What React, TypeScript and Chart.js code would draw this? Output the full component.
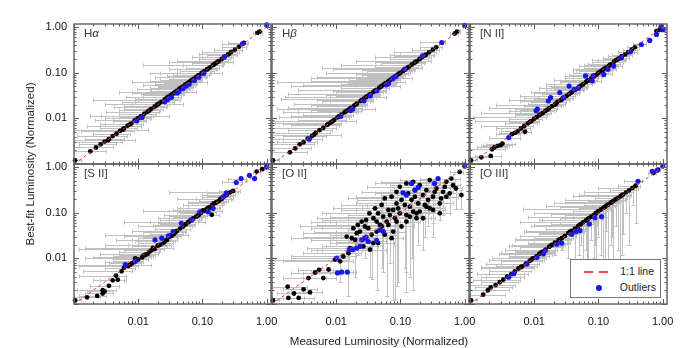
import React, { useEffect, useRef } from "react";
import { Chart, registerables } from "chart.js";
Chart.register(...registerables);

// ---------------- data ----------------
const AXIS_MIN = 0.001;
const AXIS_MAX = 1.17;
const TICK_VALUES = [0.01, 0.1, 1];
const TICK_LABELS = ["0.01", "0.10", "1.00"];
const PANEL_NAMES = ["Hα", "Hβ", "[N II]", "[S II]", "[O II]", "[O III]"];
const X_TITLE = "Measured Luminosity (Normalized)";
const Y_TITLE = "Best-fit Luminosity (Normalized)";
const LEGEND_LABELS = ["1:1 line", "Outliers"];

// rows: [x, y, xlo, xhi, ylo?, yhi?]
const HA_BLACK = [
  [0.00104, 0.0012, 0.001, 0.0013], [0.0018, 0.0019, 0.001, 0.0032], [0.0022, 0.0023, 0.001, 0.004],
  [0.0026, 0.0027, 0.0012, 0.0045], [0.003, 0.0031, 0.001, 0.0055], [0.0035, 0.0035, 0.0015, 0.006],
  [0.004, 0.0041, 0.0011, 0.0068], [0.0046, 0.0046, 0.002, 0.0075], [0.0052, 0.0053, 0.0013, 0.0085],
  [0.006, 0.006, 0.0025, 0.0095], [0.0068, 0.0069, 0.0016, 0.011], [0.0078, 0.0077, 0.003, 0.012],
  [0.0088, 0.009, 0.0021, 0.013], [0.0098, 0.01, 0.004, 0.015], [0.011, 0.011, 0.0026, 0.017],
  [0.0125, 0.0127, 0.005, 0.019], [0.014, 0.014, 0.0032, 0.021], [0.016, 0.0162, 0.006, 0.024],
  [0.018, 0.018, 0.0042, 0.027], [0.02, 0.0205, 0.008, 0.03], [0.023, 0.023, 0.0055, 0.034],
  [0.026, 0.026, 0.01, 0.037], [0.029, 0.0295, 0.0065, 0.042], [0.032, 0.032, 0.012, 0.046],
  [0.036, 0.036, 0.008, 0.052], [0.04, 0.04, 0.015, 0.057], [0.044, 0.045, 0.0095, 0.062],
  [0.049, 0.049, 0.02, 0.07], [0.054, 0.055, 0.012, 0.078], [0.06, 0.06, 0.025, 0.083],
  [0.066, 0.067, 0.015, 0.092], [0.073, 0.073, 0.03, 0.1], [0.08, 0.081, 0.018, 0.115],
  [0.088, 0.088, 0.035, 0.125], [0.097, 0.098, 0.022, 0.135], [0.107, 0.107, 0.045, 0.15],
  [0.118, 0.12, 0.03, 0.165], [0.13, 0.13, 0.055, 0.18], [0.145, 0.146, 0.012, 0.2],
  [0.16, 0.16, 0.07, 0.22], [0.18, 0.18, 0.04, 0.25], [0.2, 0.2, 0.09, 0.27],
  [0.22, 0.225, 0.07, 0.3], [0.25, 0.25, 0.12, 0.33], [0.28, 0.285, 0.1, 0.37],
  [0.32, 0.32, 0.15, 0.42], [0.37, 0.37, 0.2, 0.47], [0.44, 0.45, 0.25, 0.52],
  [0.72, 0.75, 0.62, 0.8], [0.78, 0.8, 0.66, 0.85],
  [0.0034, 0.0033, 0.001, 0.009], [0.0058, 0.0057, 0.001, 0.014], [0.0115, 0.0112, 0.0018, 0.03],
  [0.021, 0.021, 0.003, 0.05], [0.038, 0.038, 0.005, 0.08], [0.062, 0.062, 0.008, 0.12],
  [0.1, 0.1, 0.015, 0.2], [0.17, 0.17, 0.03, 0.3], [0.026, 0.025, 0.002, 0.045],
  [0.0075, 0.0074, 0.0025, 0.011], [0.0105, 0.0104, 0.003, 0.016], [0.015, 0.015, 0.005, 0.022],
  [0.019, 0.019, 0.006, 0.028], [0.027, 0.027, 0.009, 0.04], [0.034, 0.034, 0.011, 0.05],
  [0.047, 0.047, 0.015, 0.068], [0.057, 0.057, 0.018, 0.08], [0.07, 0.07, 0.022, 0.1],
  [0.085, 0.085, 0.028, 0.12], [0.12, 0.12, 0.04, 0.17], [0.15, 0.15, 0.05, 0.21], [0.26, 0.26, 0.09, 0.35],
];
const HA_BLUE = [
  [0.0095, 0.0088, 0.004, 0.013], [0.0115, 0.0105, 0.005, 0.016], [0.026, 0.023, 0.009, 0.036],
  [0.029, 0.026, 0.01, 0.04], [0.033, 0.029, 0.012, 0.046], [0.04, 0.036, 0.015, 0.052],
  [0.043, 0.039, 0.016, 0.056], [0.05, 0.045, 0.02, 0.065], [0.056, 0.051, 0.02, 0.072],
  [0.062, 0.056, 0.025, 0.08], [0.075, 0.068, 0.03, 0.095], [0.088, 0.08, 0.035, 0.11],
  [0.105, 0.097, 0.04, 0.13], [0.22, 0.22, 0.1, 0.28], [0.42, 0.43, 0.2, 0.5], [1.0, 1.12, 1.0, 1.0],
];

const HB_BLACK = [
  [0.00104, 0.0012, 0.001, 0.0013], [0.0019, 0.0018, 0.001, 0.0035], [0.0023, 0.0022, 0.001, 0.004],
  [0.0027, 0.0027, 0.001, 0.0045], [0.0031, 0.003, 0.0012, 0.005], [0.0036, 0.0036, 0.001, 0.006],
  [0.0042, 0.0041, 0.0015, 0.007], [0.0048, 0.0048, 0.001, 0.008], [0.0055, 0.0055, 0.0018, 0.0085],
  [0.0063, 0.0062, 0.001, 0.01], [0.0072, 0.0072, 0.002, 0.011], [0.0082, 0.0081, 0.0011, 0.012],
  [0.0093, 0.0093, 0.0025, 0.014], [0.0105, 0.0105, 0.0013, 0.016], [0.012, 0.012, 0.003, 0.018],
  [0.0135, 0.0135, 0.0015, 0.02], [0.015, 0.015, 0.004, 0.022], [0.017, 0.017, 0.0018, 0.025],
  [0.019, 0.019, 0.005, 0.028], [0.021, 0.021, 0.0022, 0.03], [0.024, 0.024, 0.006, 0.034],
  [0.027, 0.027, 0.0014, 0.038], [0.03, 0.03, 0.008, 0.042], [0.034, 0.034, 0.0018, 0.048],
  [0.038, 0.038, 0.01, 0.053], [0.042, 0.042, 0.0025, 0.06], [0.047, 0.047, 0.012, 0.066],
  [0.053, 0.053, 0.003, 0.075], [0.059, 0.059, 0.015, 0.082], [0.066, 0.066, 0.004, 0.09],
  [0.074, 0.074, 0.02, 0.1], [0.082, 0.082, 0.005, 0.11], [0.09, 0.091, 0.025, 0.12],
  [0.1, 0.1, 0.007, 0.14], [0.11, 0.11, 0.03, 0.15], [0.122, 0.122, 0.009, 0.17],
  [0.135, 0.135, 0.04, 0.19], [0.15, 0.15, 0.012, 0.21], [0.165, 0.165, 0.05, 0.23],
  [0.18, 0.18, 0.02, 0.3], [0.2, 0.2, 0.07, 0.27], [0.22, 0.22, 0.04, 0.3],
  [0.25, 0.25, 0.1, 0.33], [0.28, 0.28, 0.08, 0.36], [0.32, 0.32, 0.15, 0.4],
  [0.36, 0.36, 0.2, 0.44], [0.7, 0.72, 0.6, 0.78], [0.76, 0.8, 0.65, 0.85],
  [0.0045, 0.0044, 0.001, 0.012], [0.0088, 0.0087, 0.001, 0.02], [0.016, 0.016, 0.0012, 0.04],
  [0.029, 0.029, 0.0016, 0.06], [0.05, 0.05, 0.002, 0.1], [0.078, 0.078, 0.004, 0.15],
  [0.13, 0.13, 0.006, 0.22], [0.064, 0.063, 0.0012, 0.12],
  [0.0075, 0.0075, 0.0015, 0.012], [0.011, 0.011, 0.002, 0.017], [0.014, 0.014, 0.0025, 0.022],
  [0.02, 0.02, 0.004, 0.03], [0.025, 0.025, 0.005, 0.038], [0.032, 0.032, 0.007, 0.047],
  [0.04, 0.04, 0.009, 0.06], [0.056, 0.056, 0.012, 0.08], [0.07, 0.07, 0.016, 0.1],
  [0.095, 0.095, 0.02, 0.13], [0.115, 0.115, 0.025, 0.16], [0.17, 0.17, 0.04, 0.24], [0.24, 0.24, 0.07, 0.32],
];
const HB_BLUE = [
  [0.0038, 0.0035, 0.0015, 0.006], [0.0117, 0.011, 0.004, 0.016], [0.0168, 0.0148, 0.005, 0.024],
  [0.018, 0.016, 0.006, 0.025], [0.027, 0.024, 0.008, 0.038], [0.034, 0.031, 0.01, 0.046],
  [0.043, 0.04, 0.012, 0.058], [0.06, 0.054, 0.02, 0.08], [0.065, 0.058, 0.02, 0.085],
  [0.076, 0.074, 0.025, 0.1], [0.085, 0.083, 0.03, 0.11], [0.116, 0.12, 0.04, 0.15],
  [0.22, 0.235, 0.08, 0.28], [0.44, 0.46, 0.2, 0.5], [1.0, 1.09, 1.0, 1.0],
];

const NII_BLACK = [
  [0.00104, 0.0012, 0.001, 0.0013], [0.0015, 0.0014, 0.001, 0.0022], [0.0021, 0.0015, 0.0012, 0.003],
  [0.0022, 0.0021, 0.001, 0.0035], [0.0024, 0.0023, 0.0013, 0.0038], [0.0027, 0.0025, 0.0015, 0.004],
  [0.003, 0.0026, 0.0016, 0.0045], [0.0032, 0.0028, 0.0018, 0.005], [0.0045, 0.0045, 0.0025, 0.006],
  [0.005, 0.0048, 0.0028, 0.007], [0.0055, 0.0052, 0.003, 0.0075], [0.0072, 0.0051, 0.005, 0.009],
  [0.0062, 0.006, 0.0025, 0.0085], [0.007, 0.0068, 0.0015, 0.0095], [0.008, 0.0078, 0.0035, 0.011],
  [0.009, 0.0087, 0.0012, 0.012], [0.01, 0.0098, 0.004, 0.013], [0.011, 0.0107, 0.0011, 0.015],
  [0.012, 0.0118, 0.005, 0.016], [0.0135, 0.013, 0.0015, 0.018], [0.015, 0.0146, 0.006, 0.02],
  [0.017, 0.0165, 0.002, 0.023], [0.019, 0.0185, 0.007, 0.026], [0.021, 0.02, 0.0025, 0.028],
  [0.023, 0.023, 0.009, 0.031], [0.026, 0.025, 0.004, 0.035], [0.029, 0.028, 0.011, 0.039],
  [0.032, 0.031, 0.006, 0.043], [0.035, 0.034, 0.013, 0.047], [0.039, 0.038, 0.009, 0.052],
  [0.043, 0.042, 0.015, 0.058], [0.048, 0.046, 0.012, 0.065], [0.053, 0.052, 0.02, 0.07],
  [0.058, 0.056, 0.015, 0.08], [0.064, 0.063, 0.025, 0.085], [0.07, 0.068, 0.02, 0.095],
  [0.077, 0.075, 0.03, 0.1], [0.085, 0.083, 0.03, 0.115], [0.093, 0.09, 0.04, 0.125],
  [0.1, 0.1, 0.04, 0.14], [0.11, 0.108, 0.05, 0.15], [0.12, 0.12, 0.04, 0.17],
  [0.13, 0.13, 0.06, 0.18], [0.145, 0.14, 0.05, 0.2], [0.16, 0.155, 0.07, 0.22],
  [0.175, 0.175, 0.08, 0.24], [0.19, 0.19, 0.1, 0.25], [0.21, 0.205, 0.12, 0.27],
  [0.23, 0.23, 0.14, 0.3], [0.26, 0.25, 0.16, 0.33], [0.29, 0.28, 0.2, 0.36],
  [0.33, 0.32, 0.24, 0.4], [0.37, 0.36, 0.28, 0.43], [0.8, 0.82, 0.75, 0.87], [0.9, 0.88, 0.85, 0.95],
  [0.0085, 0.0083, 0.004, 0.012], [0.0125, 0.0122, 0.005, 0.017], [0.016, 0.0155, 0.006, 0.022],
  [0.022, 0.021, 0.008, 0.03], [0.027, 0.026, 0.01, 0.036], [0.037, 0.036, 0.014, 0.05],
  [0.05, 0.049, 0.018, 0.067], [0.067, 0.066, 0.025, 0.09], [0.09, 0.088, 0.035, 0.12],
  [0.115, 0.113, 0.045, 0.16], [0.15, 0.148, 0.06, 0.2], [0.2, 0.195, 0.08, 0.26],
];
const NII_BLUE = [
  [0.004, 0.0038, 0.002, 0.006], [0.0107, 0.0147, 0.004, 0.015], [0.0112, 0.016, 0.005, 0.016],
  [0.0166, 0.024, 0.006, 0.025], [0.018, 0.0285, 0.007, 0.026], [0.0284, 0.0285, 0.012, 0.04],
  [0.025, 0.0367, 0.01, 0.035], [0.035, 0.051, 0.015, 0.05], [0.042, 0.043, 0.02, 0.06],
  [0.0485, 0.046, 0.02, 0.065], [0.063, 0.085, 0.03, 0.09], [0.08, 0.066, 0.04, 0.11],
  [0.083, 0.085, 0.04, 0.11], [0.121, 0.092, 0.06, 0.16], [0.14, 0.119, 0.07, 0.19],
  [0.173, 0.14, 0.09, 0.23], [0.228, 0.212, 0.12, 0.3], [0.315, 0.287, 0.2, 0.4],
  [0.466, 0.416, 0.35, 0.55], [0.63, 0.51, 0.63, 0.63], [0.8, 0.69, 0.8, 0.8],
  [0.95, 1.04, 0.95, 0.95], [1.02, 0.88, 1.02, 1.02],
];

const SII_BLACK = [
  [0.00104, 0.0012, 0.001, 0.0013], [0.0016, 0.0014, 0.001, 0.0025], [0.0023, 0.0015, 0.0012, 0.0032],
  [0.0028, 0.0017, 0.0015, 0.004], [0.0028, 0.002, 0.0011, 0.0045], [0.003, 0.0019, 0.0016, 0.004],
  [0.0035, 0.0025, 0.0018, 0.005], [0.004, 0.0033, 0.002, 0.006], [0.0045, 0.0042, 0.0012, 0.0065],
  [0.0048, 0.0034, 0.0025, 0.0065], [0.0055, 0.0052, 0.0014, 0.008], [0.006, 0.0062, 0.003, 0.009],
  [0.007, 0.0068, 0.0012, 0.01], [0.008, 0.0078, 0.0035, 0.011], [0.009, 0.01, 0.0015, 0.013],
  [0.01, 0.0095, 0.004, 0.014], [0.0115, 0.0105, 0.002, 0.016], [0.013, 0.012, 0.005, 0.018],
  [0.014, 0.0125, 0.0025, 0.02], [0.016, 0.015, 0.006, 0.022], [0.018, 0.016, 0.0012, 0.025],
  [0.02, 0.019, 0.008, 0.028], [0.022, 0.02, 0.003, 0.032], [0.025, 0.022, 0.01, 0.035],
  [0.028, 0.025, 0.0045, 0.04], [0.03, 0.029, 0.012, 0.042], [0.033, 0.031, 0.006, 0.047],
  [0.036, 0.034, 0.015, 0.05], [0.04, 0.04, 0.008, 0.056], [0.045, 0.045, 0.018, 0.063],
  [0.05, 0.05, 0.01, 0.07], [0.055, 0.056, 0.022, 0.078], [0.06, 0.062, 0.015, 0.085],
  [0.065, 0.068, 0.03, 0.09], [0.072, 0.075, 0.02, 0.1], [0.08, 0.082, 0.035, 0.11],
  [0.088, 0.09, 0.025, 0.12], [0.095, 0.1, 0.045, 0.13], [0.1, 0.11, 0.03, 0.14],
  [0.11, 0.115, 0.05, 0.15], [0.12, 0.125, 0.04, 0.17], [0.13, 0.13, 0.06, 0.18],
  [0.14, 0.145, 0.05, 0.2], [0.15, 0.16, 0.07, 0.21], [0.165, 0.17, 0.06, 0.23],
  [0.18, 0.18, 0.09, 0.25], [0.2, 0.2, 0.08, 0.28], [0.22, 0.23, 0.12, 0.3],
  [0.24, 0.25, 0.1, 0.32], [0.27, 0.28, 0.03, 0.36], [0.3, 0.3, 0.18, 0.38],
  [0.14, 0.09, 0.09, 0.18], [0.7, 0.8, 0.62, 0.78], [0.85, 0.9, 0.8, 0.9],
  [0.0075, 0.0073, 0.001, 0.016], [0.017, 0.017, 0.0015, 0.035], [0.032, 0.032, 0.003, 0.06],
  [0.062, 0.064, 0.006, 0.11], [0.105, 0.11, 0.012, 0.2], [0.19, 0.2, 0.04, 0.3],
  [0.0085, 0.0082, 0.003, 0.012], [0.012, 0.0115, 0.004, 0.017], [0.015, 0.014, 0.005, 0.021],
  [0.021, 0.0195, 0.007, 0.03], [0.026, 0.024, 0.009, 0.037], [0.038, 0.037, 0.012, 0.053],
  [0.052, 0.053, 0.017, 0.073], [0.068, 0.071, 0.022, 0.095], [0.085, 0.087, 0.03, 0.12],
  [0.105, 0.112, 0.035, 0.15], [0.125, 0.13, 0.045, 0.18], [0.16, 0.165, 0.06, 0.22],
];
const SII_BLUE = [
  [0.0063, 0.0073, 0.003, 0.009], [0.009, 0.0086, 0.004, 0.012], [0.0183, 0.0254, 0.008, 0.026],
  [0.0232, 0.0277, 0.01, 0.032], [0.0294, 0.031, 0.012, 0.04], [0.035, 0.0386, 0.015, 0.048],
  [0.047, 0.0587, 0.02, 0.065], [0.068, 0.069, 0.03, 0.09], [0.091, 0.105, 0.04, 0.12],
  [0.123, 0.105, 0.05, 0.16], [0.147, 0.125, 0.06, 0.19], [0.21, 0.223, 0.1, 0.27],
  [0.236, 0.273, 0.12, 0.3], [0.337, 0.46, 0.2, 0.42], [0.4, 0.56, 0.25, 0.48],
  [0.54, 0.66, 0.54, 0.54], [0.65, 0.56, 0.65, 0.65], [1.0, 1.0, 1, 1], [1.0, 1.08, 1, 1],
];

const OII_BLACK = [
  [0.00104, 0.0012, 0.001, 0.0013], [0.00175, 0.0024, 0.001, 0.0035], [0.0018, 0.00136, 0.001, 0.0032],
  [0.0022, 0.0017, 0.0012, 0.004], [0.0026, 0.00136, 0.0015, 0.0045], [0.0031, 0.0021, 0.0015, 0.005],
  [0.0039, 0.0018, 0.002, 0.006], [0.0037, 0.0037, 0.0015, 0.007], [0.0047, 0.0049, 0.002, 0.008],
  [0.0054, 0.0056, 0.0025, 0.009], [0.0063, 0.0037, 0.003, 0.01], [0.0076, 0.0057, 0.0025, 0.012],
  [0.0096, 0.0094, 0.0011, 0.015], [0.0115, 0.0086, 0.0015, 0.018, 0.003, 0.012],
  [0.0129, 0.011, 0.002, 0.02], [0.0155, 0.013, 0.003, 0.024, 0.0015, 0.016],
  [0.0164, 0.0168, 0.0035, 0.026], [0.0175, 0.0277, 0.002, 0.03], [0.0197, 0.0255, 0.004, 0.032, 0.004, 0.03],
  [0.0209, 0.0356, 0.003, 0.035], [0.0235, 0.0387, 0.0045, 0.04], [0.025, 0.064, 0.004, 0.045],
  [0.028, 0.05, 0.0027, 0.048, 0.01, 0.06], [0.0316, 0.046, 0.006, 0.055], [0.038, 0.0757, 0.005, 0.065],
  [0.0426, 0.064, 0.008, 0.07, 0.002, 0.075], [0.045, 0.097, 0.006, 0.08], [0.048, 0.054, 0.01, 0.085],
  [0.054, 0.082, 0.008, 0.09, 0.005, 0.095], [0.057, 0.033, 0.012, 0.09], [0.061, 0.064, 0.01, 0.1, 0.0015, 0.075],
  [0.065, 0.115, 0.012, 0.11], [0.0686, 0.089, 0.015, 0.12, 0.008, 0.1], [0.077, 0.115, 0.02, 0.13],
  [0.082, 0.0757, 0.015, 0.14, 0.0013, 0.09], [0.087, 0.16, 0.02, 0.15], [0.092, 0.125, 0.025, 0.16, 0.003, 0.145],
  [0.098, 0.097, 0.03, 0.17], [0.104, 0.19, 0.021, 0.2], [0.117, 0.148, 0.03, 0.22, 0.006, 0.17],
  [0.124, 0.089, 0.04, 0.22, 0.0018, 0.1], [0.14, 0.136, 0.04, 0.25], [0.149, 0.19, 0.05, 0.28, 0.01, 0.22],
  [0.158, 0.106, 0.05, 0.28, 0.002, 0.12], [0.168, 0.224, 0.06, 0.32], [0.189, 0.16, 0.06, 0.35, 0.02, 0.19],
  [0.2, 0.106, 0.07, 0.35], [0.225, 0.244, 0.08, 0.4], [0.24, 0.148, 0.09, 0.42, 0.03, 0.17],
  [0.254, 0.313, 0.1, 0.45], [0.27, 0.19, 0.1, 0.45, 0.05, 0.22], [0.286, 0.125, 0.12, 0.5],
  [0.322, 0.224, 0.12, 0.55, 0.06, 0.26], [0.363, 0.34, 0.15, 0.6], [0.41, 0.16, 0.15, 0.65, 0.07, 0.19],
  [0.49, 0.37, 0.2, 0.75], [0.52, 0.224, 0.25, 0.8], [0.585, 0.265, 0.3, 0.85, 0.1, 0.3],
  [0.62, 0.56, 0.4, 0.85], [0.836, 0.785, 0.6, 0.95], [0.89, 0.244, 0.89, 0.89, 0.12, 0.32],
  [1.0, 1.04, 1, 1], [0.038, 0.0216, 0.008, 0.07], [0.0336, 0.0155, 0.006, 0.06, 0.004, 0.018],
  [0.045, 0.0216, 0.01, 0.08], [0.077, 0.0387, 0.02, 0.12, 0.0012, 0.045], [0.124, 0.064, 0.03, 0.2, 0.005, 0.075],
  [0.178, 0.0757, 0.05, 0.3], [0.322, 0.115, 0.1, 0.5, 0.03, 0.13], [0.41, 0.097, 0.15, 0.6],
  [0.132, 0.265, 0.05, 0.25], [0.0146, 0.03, 0.003, 0.025], [0.0185, 0.046, 0.004, 0.03],
  [0.0217, 0.054, 0.005, 0.035, 0.012, 0.06], [0.0292, 0.0695, 0.006, 0.045], [0.0329, 0.097, 0.007, 0.05],
  [0.0402, 0.125, 0.009, 0.06], [0.051, 0.148, 0.012, 0.08, 0.02, 0.17], [0.057, 0.206, 0.015, 0.09],
  [0.0728, 0.224, 0.02, 0.11], [0.087, 0.288, 0.025, 0.14, 0.04, 0.32], [0.098, 0.37, 0.03, 0.16],
  [0.124, 0.44, 0.04, 0.2], [0.158, 0.475, 0.05, 0.25], [0.2, 0.4, 0.07, 0.32, 0.08, 0.45],
  [0.286, 0.52, 0.1, 0.42], [0.342, 0.288, 0.12, 0.5], [0.46, 0.288, 0.18, 0.65, 0.09, 0.32],
  [0.52, 0.475, 0.2, 0.7], [0.66, 0.4, 0.3, 0.85], [0.73, 0.34, 0.35, 0.9, 0.12, 0.38],
  [0.43, 0.206, 0.15, 0.6], [0.0426, 0.0387, 0.01, 0.07], [0.051, 0.05, 0.012, 0.08, 0.006, 0.055],
  [0.065, 0.054, 0.015, 0.1], [0.087, 0.064, 0.02, 0.13, 0.0025, 0.07], [0.104, 0.05, 0.03, 0.16],
  [0.14, 0.082, 0.04, 0.22, 0.004, 0.09], [0.178, 0.097, 0.05, 0.28], [0.225, 0.0757, 0.07, 0.35, 0.015, 0.085],
  [0.254, 0.136, 0.08, 0.4], [0.0728, 0.0277, 0.015, 0.11], [0.0265, 0.0183, 0.006, 0.045],
  [0.0356, 0.033, 0.008, 0.06, 0.0035, 0.037],
];
const OII_BLUE = [
  [0.0102, 0.0102, 0.002, 0.016], [0.0105, 0.0048, 0.003, 0.016], [0.0122, 0.005, 0.004, 0.018],
  [0.0149, 0.005, 0.005, 0.02], [0.016, 0.0155, 0.004, 0.025], [0.018, 0.0155, 0.005, 0.028],
  [0.0209, 0.0168, 0.006, 0.03], [0.0235, 0.0183, 0.007, 0.035], [0.025, 0.0255, 0.008, 0.038],
  [0.028, 0.0277, 0.009, 0.04], [0.0292, 0.0292, 0.01, 0.042], [0.0316, 0.0234, 0.01, 0.045],
  [0.0426, 0.0245, 0.015, 0.06], [0.048, 0.042, 0.015, 0.07], [0.054, 0.0387, 0.02, 0.08],
  [0.11, 0.274, 0.04, 0.2], [0.124, 0.244, 0.05, 0.22], [0.149, 0.44, 0.06, 0.25],
  [0.168, 0.313, 0.07, 0.28], [0.189, 0.358, 0.08, 0.3], [0.34, 0.44, 0.15, 0.5],
  [0.385, 0.56, 0.2, 0.55], [1.0, 1.1, 1, 1],
];

const OIII_BLACK = [
  [0.00104, 0.0012, 0.001, 0.0013], [0.0016, 0.0016, 0.001, 0.0035], [0.0019, 0.002, 0.001, 0.004],
  [0.0021, 0.0023, 0.0012, 0.0045], [0.0025, 0.0026, 0.001, 0.005], [0.0029, 0.003, 0.0015, 0.0055],
  [0.0033, 0.0034, 0.0011, 0.006], [0.0038, 0.004, 0.0018, 0.007], [0.0044, 0.0045, 0.0013, 0.008],
  [0.005, 0.0052, 0.002, 0.009], [0.0057, 0.006, 0.0015, 0.01], [0.0065, 0.0067, 0.0025, 0.011],
  [0.0074, 0.0077, 0.0018, 0.012], [0.0085, 0.0088, 0.003, 0.013], [0.0095, 0.01, 0.0022, 0.015],
  [0.0108, 0.011, 0.004, 0.017], [0.012, 0.0125, 0.0028, 0.019], [0.0135, 0.014, 0.005, 0.021],
  [0.015, 0.0156, 0.0035, 0.023], [0.017, 0.0178, 0.006, 0.026], [0.019, 0.02, 0.0045, 0.03],
  [0.021, 0.0222, 0.008, 0.032, 0.012, 0.025], [0.024, 0.025, 0.005, 0.036],
  [0.027, 0.028, 0.01, 0.04, 0.015, 0.031], [0.03, 0.031, 0.006, 0.045],
  [0.034, 0.036, 0.012, 0.05, 0.01, 0.04], [0.038, 0.04, 0.0075, 0.055],
  [0.043, 0.045, 0.015, 0.062, 0.008, 0.05], [0.048, 0.05, 0.009, 0.068],
  [0.053, 0.056, 0.018, 0.075, 0.02, 0.062], [0.058, 0.062, 0.006, 0.082, 0.006, 0.068],
  [0.064, 0.068, 0.012, 0.09, 0.015, 0.075], [0.07, 0.075, 0.025, 0.098, 0.004, 0.082],
  [0.077, 0.082, 0.008, 0.11, 0.025, 0.09], [0.085, 0.09, 0.03, 0.12, 0.01, 0.1],
  [0.093, 0.1, 0.01, 0.13, 0.003, 0.11], [0.1, 0.108, 0.04, 0.14, 0.03, 0.12],
  [0.11, 0.118, 0.0068, 0.15, 0.012, 0.13], [0.12, 0.128, 0.05, 0.17, 0.005, 0.14],
  [0.13, 0.14, 0.015, 0.18, 0.04, 0.155], [0.14, 0.15, 0.06, 0.2, 0.0025, 0.165],
  [0.155, 0.165, 0.02, 0.22, 0.02, 0.18], [0.17, 0.18, 0.07, 0.24, 0.008, 0.2],
  [0.185, 0.195, 0.03, 0.26, 0.05, 0.215], [0.2, 0.21, 0.09, 0.28, 0.015, 0.23],
  [0.22, 0.23, 0.04, 0.3, 0.006, 0.25], [0.24, 0.25, 0.1, 0.32, 0.035, 0.27],
  [0.27, 0.28, 0.06, 0.35, 0.1, 0.3], [0.3, 0.31, 0.15, 0.38, 0.02, 0.34],
  [0.34, 0.35, 0.1, 0.42, 0.15, 0.38], [0.38, 0.39, 0.2, 0.45, 0.06, 0.42],
  [0.72, 0.74, 0.6, 0.78], [0.85, 0.88, 0.75, 0.9],
  [0.0062, 0.0064, 0.0015, 0.01], [0.009, 0.0093, 0.002, 0.014], [0.0128, 0.0133, 0.003, 0.02],
  [0.018, 0.019, 0.004, 0.028], [0.025, 0.026, 0.005, 0.038], [0.036, 0.038, 0.007, 0.052],
  [0.05, 0.053, 0.01, 0.072, 0.012, 0.058], [0.067, 0.071, 0.013, 0.095, 0.008, 0.078],
  [0.09, 0.095, 0.018, 0.125, 0.02, 0.105], [0.125, 0.133, 0.025, 0.17, 0.009, 0.145],
  [0.16, 0.17, 0.03, 0.22, 0.03, 0.19], [0.23, 0.24, 0.05, 0.31, 0.012, 0.26],
];
const OIII_BLUE = [
  [0.004, 0.00386, 0.0015, 0.006], [0.0048, 0.0046, 0.002, 0.007], [0.0077, 0.0075, 0.003, 0.011],
  [0.011, 0.0105, 0.004, 0.015], [0.0139, 0.0126, 0.005, 0.019], [0.0148, 0.0147, 0.005, 0.02],
  [0.0224, 0.0205, 0.008, 0.03], [0.0268, 0.0216, 0.01, 0.036], [0.0383, 0.0339, 0.012, 0.05],
  [0.0447, 0.0387, 0.015, 0.06], [0.0515, 0.0407, 0.02, 0.07], [0.072, 0.0569, 0.025, 0.095],
  [0.088, 0.078, 0.03, 0.115], [0.112, 0.082, 0.04, 0.14], [0.414, 0.49, 0.25, 0.48],
  [0.69, 0.81, 0.69, 0.69], [0.82, 0.85, 0.82, 0.82], [1.0, 1.06, 1, 1],
];

const BLACK_SETS = [HA_BLACK, HB_BLACK, NII_BLACK, SII_BLACK, OII_BLACK, OIII_BLACK];
const BLUE_SETS = [HA_BLUE, HB_BLUE, NII_BLUE, SII_BLUE, OII_BLUE, OIII_BLUE];

// ---------------- layout / style ----------------
const CANVAS_W = 700;
const CANVAS_H = 348;
const PANEL_LEFT = [74, 272, 470];
const PANEL_TOP = [24, 164];
const PANEL_W = 197;
const PANEL_H = 140;
const Y_AXIS_W = 44;
const X_AXIS_H = 30;
const FONT = '"Liberation Sans", Arial, Helvetica, sans-serif';
const ERR_COLOR = "rgb(192,192,192)";
const FRAME_COLOR = "#5e5e5e";

function toPoints(rows: number[][]) {
  return rows.map((r) => ({ x: r[0], y: r[1], xlo: r[2], xhi: r[3], ylo: r[4], yhi: r[5] }));
}

const errorBarPlugin = {
  id: "errorBars",
  beforeDatasetsDraw(chart: any) {
    const ctx = chart.ctx;
    const xs = chart.scales.x;
    const ys = chart.scales.y;
    const a = chart.chartArea;
    ctx.save();
    ctx.beginPath();
    ctx.rect(a.left, a.top, a.right - a.left, a.bottom - a.top);
    ctx.clip();
    ctx.strokeStyle = ERR_COLOR;
    ctx.lineWidth = 1;
    const cap = 2;
    chart.data.datasets.forEach((ds: any) => {
      if (!ds.errorBars) return;
      ds.data.forEach((p: any) => {
        const px = Math.round(xs.getPixelForValue(p.x)) + 0.5;
        const py = Math.round(ys.getPixelForValue(p.y)) + 0.5;
        if (p.xlo != null && p.xhi != null && (p.xlo < p.x || p.xhi > p.x)) {
          const l = Math.round(xs.getPixelForValue(p.xlo)) + 0.5;
          const r = Math.round(xs.getPixelForValue(p.xhi)) + 0.5;
          ctx.beginPath();
          ctx.moveTo(l, py);
          ctx.lineTo(r, py);
          ctx.moveTo(l, py - cap);
          ctx.lineTo(l, py + cap);
          ctx.moveTo(r, py - cap);
          ctx.lineTo(r, py + cap);
          ctx.stroke();
        }
        if (p.ylo != null) {
          const b = Math.round(ys.getPixelForValue(p.ylo)) + 0.5;
          const t = Math.round(ys.getPixelForValue(p.yhi != null ? p.yhi : p.y)) + 0.5;
          ctx.beginPath();
          ctx.moveTo(px, b);
          ctx.lineTo(px, t);
          ctx.moveTo(px - cap, b);
          ctx.lineTo(px + cap, b);
          ctx.moveTo(px - cap, t);
          ctx.lineTo(px + cap, t);
          ctx.stroke();
        }
      });
    });
    ctx.restore();
  },
};

const framePlugin = {
  id: "frameTicks",
  afterDraw(chart: any) {
    const ctx = chart.ctx;
    const xs = chart.scales.x;
    const ys = chart.scales.y;
    const { left, right, top, bottom } = chart.chartArea;
    ctx.save();
    ctx.strokeStyle = FRAME_COLOR;
    ctx.lineWidth = 1;
    ctx.beginPath();
    for (let e = -3; e <= 0; e++) {
      for (let m = 1; m <= 9; m++) {
        const v = m * Math.pow(10, e);
        if (v < AXIS_MIN || v > AXIS_MAX) continue;
        const len = m === 1 ? 5 : 2.5;
        const x = Math.round(xs.getPixelForValue(v)) + 0.5;
        ctx.moveTo(x, bottom);
        ctx.lineTo(x, bottom - len);
        ctx.moveTo(x, top);
        ctx.lineTo(x, top + len);
        const y = Math.round(ys.getPixelForValue(v)) + 0.5;
        ctx.moveTo(left, y);
        ctx.lineTo(left + len, y);
        ctx.moveTo(right, y);
        ctx.lineTo(right - len, y);
      }
    }
    ctx.stroke();
    ctx.lineWidth = 1.4;
    ctx.strokeRect(left, top, right - left, bottom - top);
    ctx.restore();
  },
};

function Panel({ idx }: { idx: number }) {
  const ref = useRef<HTMLCanvasElement | null>(null);
  useEffect(() => {
    const col = idx % 3;
    const row = Math.floor(idx / 3);
    const left = PANEL_LEFT[col];
    const top = PANEL_TOP[row];
    const showX = row === 1;
    const showY = col === 0;
    const chart = new Chart(ref.current as HTMLCanvasElement, {
      type: "scatter",
      data: {
        datasets: [
          {
            type: "line",
            data: [
              { x: AXIS_MIN, y: AXIS_MIN },
              { x: AXIS_MAX, y: AXIS_MAX },
            ],
            borderColor: "#e8342f",
            borderWidth: 1,
            borderDash: [3, 3],
            pointRadius: 0,
            fill: false,
            order: 0,
          },
          {
            data: toPoints(BLUE_SETS[idx]),
            backgroundColor: "#1616ee",
            borderWidth: 0,
            pointRadius: 2.6,
            order: 1,
            clip: false,
            errorBars: true,
          },
          {
            data: toPoints(BLACK_SETS[idx]),
            backgroundColor: "#000000",
            borderWidth: 0,
            pointRadius: 2.4,
            order: 2,
            clip: false,
            errorBars: true,
          },
        ] as any,
      },
      options: {
        animation: false,
        responsive: false,
        events: [],
        layout: {
          padding: {
            left: left - Y_AXIS_W,
            top: top,
            right: CANVAS_W - left - PANEL_W,
            bottom: CANVAS_H - top - PANEL_H - X_AXIS_H,
          },
        },
        plugins: { legend: { display: false }, tooltip: { enabled: false } },
        scales: {
          x: {
            type: "logarithmic",
            min: AXIS_MIN,
            max: AXIS_MAX,
            grid: { display: false, drawTicks: false },
            border: { display: false },
            afterBuildTicks: (axis: any) => {
              axis.ticks = TICK_VALUES.map((v) => ({ value: v }));
            },
            afterFit: (axis: any) => {
              axis.height = X_AXIS_H;
            },
            ticks: {
              display: showX,
              autoSkip: false,
              maxRotation: 0,
              padding: 11,
              color: "#111",
              font: { family: FONT, size: 11 },
              callback: (_v: any, i: number) => TICK_LABELS[i],
            },
          },
          y: {
            type: "logarithmic",
            min: AXIS_MIN,
            max: AXIS_MAX,
            grid: { display: false, drawTicks: false },
            border: { display: false },
            afterBuildTicks: (axis: any) => {
              axis.ticks = TICK_VALUES.map((v) => ({ value: v }));
            },
            afterFit: (axis: any) => {
              axis.width = Y_AXIS_W;
            },
            ticks: {
              display: showY,
              autoSkip: false,
              padding: 7,
              color: "#111",
              font: { family: FONT, size: 11 },
              callback: (_v: any, i: number) => TICK_LABELS[i],
            },
          },
        },
      } as any,
      plugins: [errorBarPlugin, framePlugin],
    });
    return () => chart.destroy();
  }, [idx]);
  return (
    <canvas
      ref={ref}
      width={CANVAS_W}
      height={CANVAS_H}
      style={{ position: "absolute", left: 0, top: 0, width: CANVAS_W, height: CANVAS_H }}
    />
  );
}

function PanelName({ idx }: { idx: number }) {
  const name = PANEL_NAMES[idx];
  const col = idx % 3;
  const row = Math.floor(idx / 3);
  const isH = name.startsWith("H");
  return (
    <div
      style={{
        position: "absolute",
        left: PANEL_LEFT[col] + 10,
        top: PANEL_TOP[row] + 2,
        fontFamily: FONT,
        fontSize: 11.5,
        color: "#3a3a3a",
        lineHeight: "14px",
        whiteSpace: "nowrap",
      }}
    >
      {isH ? (
        <>
          {name.slice(0, 1)}
          <i>{name.slice(1)}</i>
        </>
      ) : (
        name
      )}
    </div>
  );
}

export default function App() {
  const idxs = [0, 1, 2, 3, 4, 5];
  return (
    <div
      style={{
        position: "absolute",
        left: 0,
        top: 0,
        width: CANVAS_W,
        height: CANVAS_H,
        background: "#fff",
        overflow: "hidden",
      }}
    >
      {idxs.map((i) => (
        <Panel key={"p" + i} idx={i} />
      ))}
      {idxs.map((i) => (
        <PanelName key={"n" + i} idx={i} />
      ))}
      <div
        style={{
          position: "absolute",
          left: 279,
          top: 334,
          width: 200,
          height: 14,
          lineHeight: "14px",
          textAlign: "center",
          fontFamily: FONT,
          fontSize: 11.5,
          fontWeight: 400,
          color: "#222",
          whiteSpace: "nowrap",
        }}
      >
        {X_TITLE}
      </div>
      <div
        style={{
          position: "absolute",
          left: -70,
          top: 157,
          width: 200,
          height: 14,
          lineHeight: "14px",
          textAlign: "center",
          transform: "rotate(-90deg)",
          transformOrigin: "100px 7px",
          fontFamily: FONT,
          fontSize: 11.5,
          fontWeight: 400,
          color: "#222",
          whiteSpace: "nowrap",
        }}
      >
        {Y_TITLE}
      </div>
      <div
        style={{
          position: "absolute",
          left: 570,
          top: 259,
          width: 89,
          height: 37,
          border: "1px solid #7a7a7a",
          background: "#fff",
          fontFamily: FONT,
          fontSize: 10.5,
          color: "#222",
        }}
      >
        <div style={{ position: "absolute", left: 13, top: 11, width: 9, height: 1.5, background: "#ff4a4a" }} />
        <div style={{ position: "absolute", left: 28, top: 11, width: 9, height: 1.5, background: "#ff4a4a" }} />
        <div
          style={{
            position: "absolute",
            left: 24.5,
            top: 24.5,
            width: 6,
            height: 6,
            borderRadius: 3,
            background: "#1616ee",
          }}
        />
        <div style={{ position: "absolute", right: 6, top: 5, lineHeight: "13px", whiteSpace: "nowrap" }}>
          {LEGEND_LABELS[0]}
        </div>
        <div style={{ position: "absolute", right: 4, top: 20.5, lineHeight: "13px", whiteSpace: "nowrap" }}>
          {LEGEND_LABELS[1]}
        </div>
      </div>
    </div>
  );
}
